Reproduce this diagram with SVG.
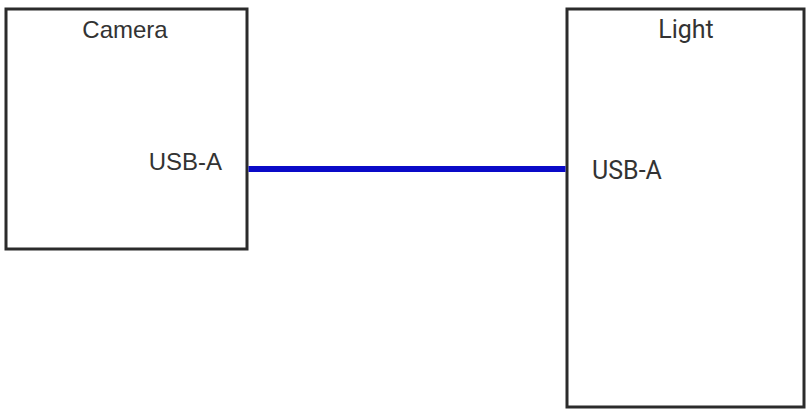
<svg xmlns="http://www.w3.org/2000/svg" width="807" height="409" viewBox="0 0 807 409">
<style>
.box{fill:#ffffff;stroke:#2b2b2b;stroke-width:3}
.t1{font-family:"Liberation Sans",Arial,sans-serif;font-size:24px;fill:#333333}
.t2{font-family:Roboto,"Liberation Sans",sans-serif;font-size:25px;fill:#333333}
.wire{stroke:#0a0ac8;stroke-width:6;fill:none}
</style>
<rect width="807" height="409" fill="#ffffff"/>
<g id="camera">
<rect class="box" x="6" y="9" width="241" height="240"/>
<text class="t1" x="125" y="38" text-anchor="middle">Camera</text>
<text class="t1" x="222" y="170" text-anchor="end">USB-A</text>
</g>
<g id="light">
<rect class="box" x="567" y="9" width="237" height="398"/>
<text class="t2" x="686" y="38" text-anchor="middle">Light</text>
<text class="t2" x="592" y="179">USB-A</text>
</g>
<g id="connectors">
<line class="wire" x1="248.5" y1="169" x2="565.5" y2="169"/>
</g>
</svg>
